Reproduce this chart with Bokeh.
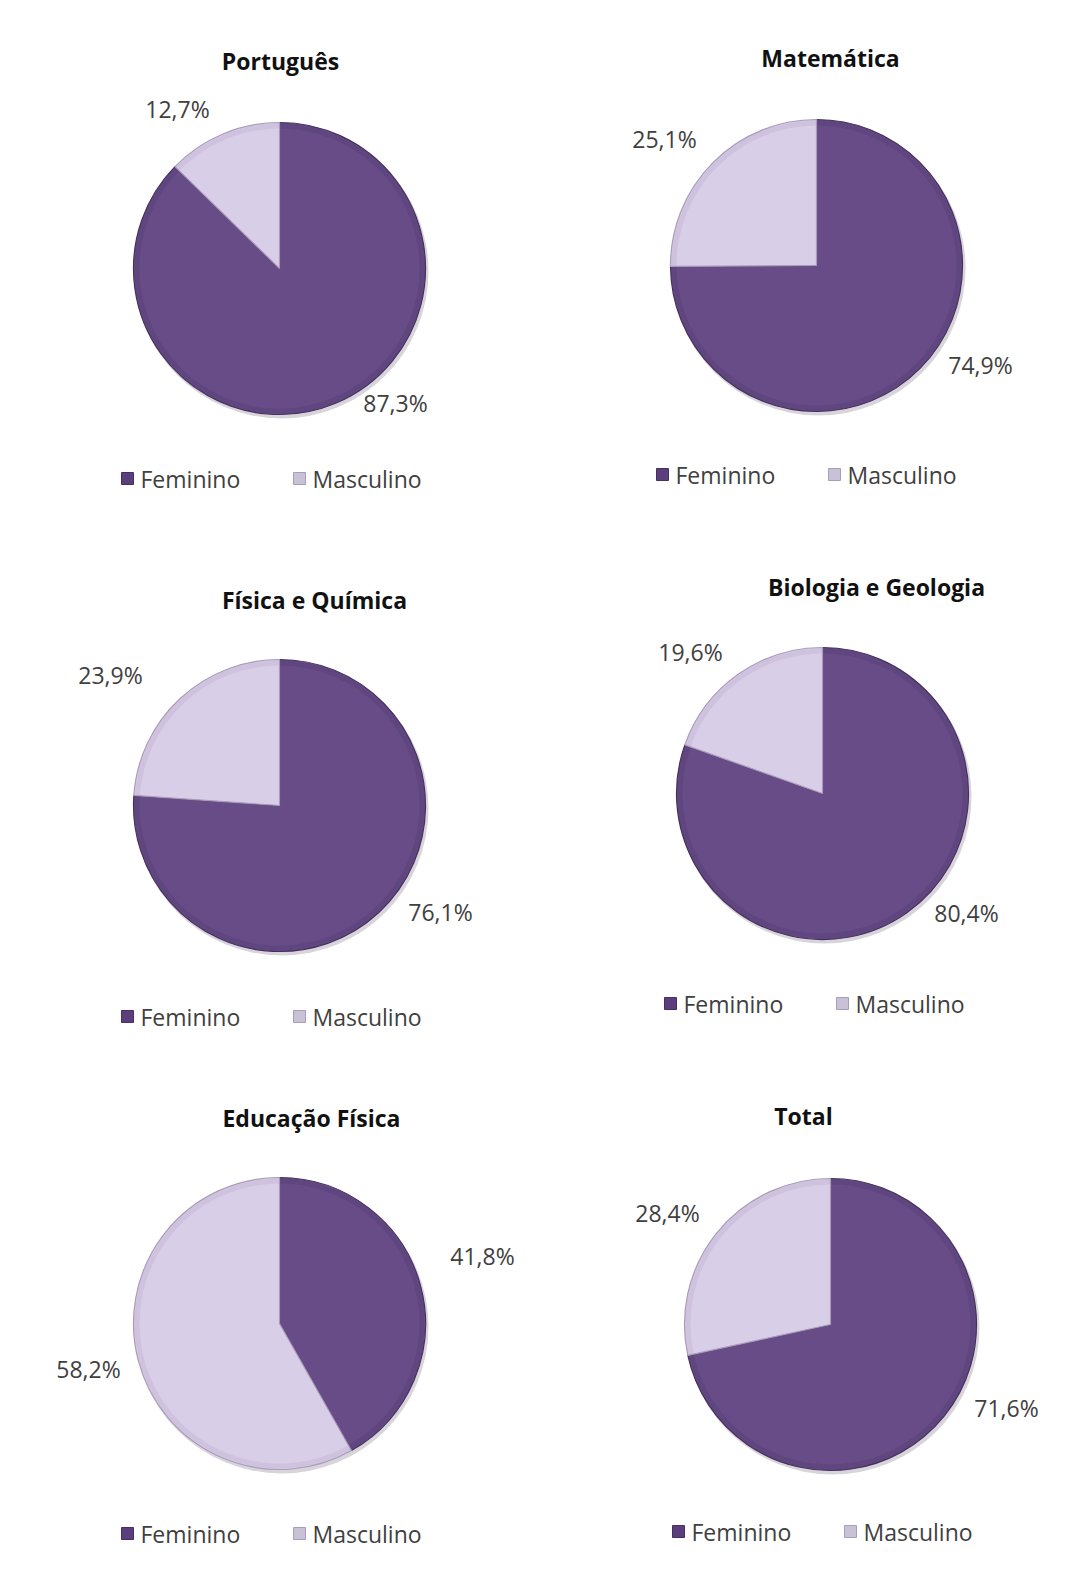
import math
from bokeh.plotting import figure
from bokeh.models import Range1d
from bokeh.core.properties import value
from bokeh.embed import file_html
from bokeh.resources import INLINE

# ---- data ----
subjects = ["Português", "Matemática", "Física e Química", "Biologia e Geologia", "Educação Física", "Total"]
categories = ["Feminino", "Masculino"]
feminino = [87.3, 74.9, 76.1, 80.4, 41.8, 71.6]
masculino = [12.7, 25.1, 23.9, 19.6, 58.2, 28.4]

# ---- layout (page pixels) ----
centers = [(279, 268), (816, 265), (279, 805), (822, 793), (279, 1323), (830, 1324)]
radius = 146
title_pos = [(280, 60), (830, 57), (314, 599), (876, 586), (311, 1117), (803, 1115)]
fem_label_pos = [(395, 402), (980, 364), (440, 911), (966, 912), (482, 1255), (1006, 1407)]
masc_label_pos = [(177, 108), (664, 138), (110, 674), (690, 651), (88, 1368), (667, 1212)]
legend_pos = [(127, 478), (662, 474), (127, 1016), (670, 1003), (127, 1533), (678, 1531)]
legend_gap = 172

colors = {"Feminino": "#684c88", "Masculino": "#d9cee8"}
edge = {"Feminino": "#46305f", "Masculino": "#a99cba"}
marker_colors = {"Feminino": "#5b3f7c", "Masculino": "#c9c1d6"}

W, H = 1068, 1555
p = figure(width=W, height=H, output_backend="svg", toolbar_location=None,
           x_range=Range1d(0, W), y_range=Range1d(-H, 0),
           x_axis_location=None, y_axis_location=None, min_border=0)
p.grid.visible = False
p.outline_line_color = None
p.background_fill_color = "white"
p.border_fill_color = "white"

FONT = "Open Sans"

for i, subj in enumerate(subjects):
    cx, cy = centers[i]
    vals = [feminino[i], masculino[i]]
    total = sum(vals)
    # soft shadow behind the pie
    p.circle(x=[cx + 2], y=[-cy - 3], radius=radius + 1, fill_color="#8c8496",
             fill_alpha=0.35, line_color=None)
    start = math.pi / 2
    for cat, v in zip(categories, vals):
        end = start - 2 * math.pi * v / total
        p.wedge(x=[cx], y=[-cy], radius=radius, start_angle=[start], end_angle=[end],
                direction="clock", fill_color=colors[cat], line_color=edge[cat], line_width=1.2)
        # darker rim (bevel)
        p.annular_wedge(x=[cx], y=[-cy], inner_radius=radius - 6, outer_radius=radius - 1,
                        start_angle=[start], end_angle=[end], direction="clock",
                        fill_color=edge[cat], fill_alpha=0.22, line_color=None)
        start = end
    # title
    tx, ty = title_pos[i]
    p.text(x=[tx], y=[-ty], text=[subj], text_font=value(FONT), text_font_style="bold",
           text_font_size="23px", text_color="#111111", text_align="center", text_baseline="middle")
    # percentage labels
    for pos, v in ((fem_label_pos[i], feminino[i]), (masc_label_pos[i], masculino[i])):
        lbl = f"{v:.1f}%".replace(".", ",")
        p.text(x=[pos[0]], y=[-pos[1]], text=[lbl], text_font=value(FONT),
               text_font_size="23px", text_color="#404040", text_align="center", text_baseline="middle")
    # legend
    lx, ly = legend_pos[i]
    for k, cat in enumerate(categories):
        mx = lx + k * legend_gap
        p.scatter(x=[mx], y=[-ly], marker="square", size=12, fill_color=marker_colors[cat],
                  line_color=edge[cat], line_width=1)
        p.text(x=[mx + 13], y=[-ly], text=[cat], text_font=value(FONT), text_font_size="23px",
               text_color="#404040", text_align="left", text_baseline="middle")

open("out.html", "w").write(file_html(p, INLINE))
